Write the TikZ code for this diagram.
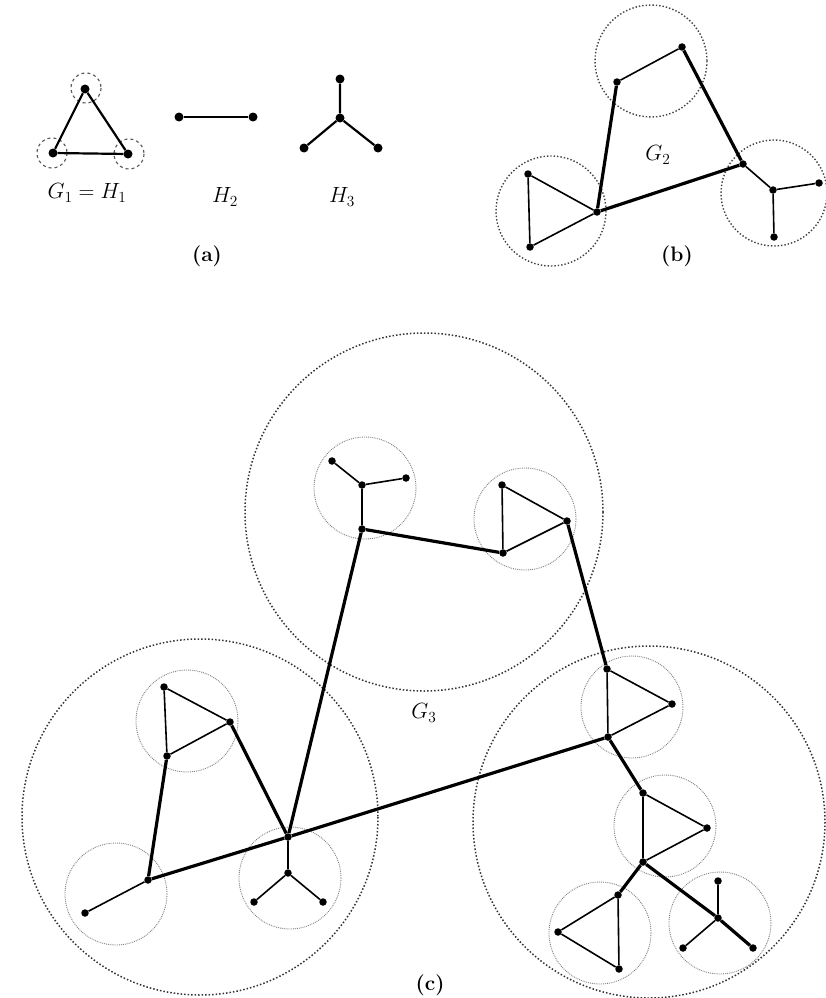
\RequirePackage{fix-cm}
\documentclass[tikz,border=0pt]{standalone}
\usepackage{amsmath,amssymb}
\usepackage{tikz}
\tikzset{
  vtx/.style={circle, fill=black, inner sep=0pt, minimum size=7.5pt},
  vtxa/.style={vtx, minimum size=9pt},
  edge/.style={line width=1.6pt},
  edgea/.style={line width=2.2pt},
  bridge/.style={line width=3.2pt},
  ringa/.style={gray!70!black, dashed, line width=1.1pt},
  ringb/.style={black!75, dotted, line width=1.4pt},
  ringsmall/.style={gray, densely dotted, line width=0.9pt},
  ringbig/.style={black!80, dotted, line width=1.5pt},
  lbl/.style={font=\fontsize{22}{26}\selectfont},
  subcap/.style={font=\fontsize{21}{25}\selectfont\bfseries}
}

\begin{document}
\begin{tikzpicture}[x=1pt, y=-1pt]
    \useasboundingbox (0,0) rectangle (825,998);

    % (a) the three base graphs
    \draw[ringa] (86,88) circle (15);
    \draw[ringa] (52,153) circle (15);
    \draw[ringa] (129,154) circle (15);
    \node[vtxa] (a1) at (85,89) {};
    \node[vtxa] (a2) at (53,153) {};
    \node[vtxa] (a3) at (128,154) {};
    \draw[edgea] (a1) -- (a2) -- (a3) -- (a1);
    \node[vtxa] (b1) at (179,117) {};
    \node[vtxa] (b2) at (253,117) {};
    \draw[edgea] (b1) -- (b2);
    \node[vtxa] (c0) at (340,118) {};
    \node[vtxa] (c1) at (340,79) {};
    \node[vtxa] (c2) at (304,148) {};
    \node[vtxa] (c3) at (378,148) {};
    \draw[edgea] (c0) -- (c1) (c0) -- (c2) (c0) -- (c3);
    \node[lbl] (la1) at (87,193) {$G_1 = H_1$};
    \node[lbl] (la2) at (225,197) {$H_2$};
    \node[lbl] (la3) at (342,197) {$H_3$};
    \node[subcap] (capa) at (207,256) {(a)};

    % (b) G_2
    \draw[ringb] (651,61) circle (56);
    \draw[ringb] (551,211) circle (55);
    \draw[ringb] (774,193) circle (53);
    \node[vtx] (p1) at (617,82) {};
    \node[vtx] (p2) at (682,47) {};
    \node[vtx] (t1) at (528,174) {};
    \node[vtx] (t2) at (530,247) {};
    \node[vtx] (t3) at (597,212) {};
    \node[vtx] (q0) at (773,190) {};
    \node[vtx] (q1) at (743,164) {};
    \node[vtx] (q2) at (819,183) {};
    \node[vtx] (q3) at (774,237) {};
    \draw[edge] (t1) -- (t2) -- (t3) -- (t1);
    \draw[edge] (p1) -- (p2);
    \draw[edge] (q0) -- (q1) (q0) -- (q2) (q0) -- (q3);
    \draw[bridge] (p1) -- (t3);
    \draw[bridge] (p2) -- (q1);
    \draw[bridge] (t3) -- (q1);
    \node[lbl] (lb) at (658,155) {$G_2$};
    \node[subcap] (capb) at (677,256) {(b)};

    % (c) G_3, big rings
    \draw[ringbig] (424,512) circle (179);
    \draw[ringbig] (200,817) circle (178);
    \draw[ringbig] (649,822) circle (176);

    % top copy
    \draw[ringsmall] (365,488) circle (51);
    \draw[ringsmall] (525,519) circle (51);
    \node[vtx] (u0) at (362,485) {};
    \node[vtx] (u1) at (332,461) {};
    \node[vtx] (u2) at (406,478) {};
    \node[vtx] (u3) at (362,529) {};
    \node[vtx] (v1) at (502,485) {};
    \node[vtx] (v2) at (567,521) {};
    \node[vtx] (v3) at (503,553) {};
    \draw[edge] (u0) -- (u1) (u0) -- (u2) (u0) -- (u3);
    \draw[edge] (v1) -- (v2) -- (v3) -- (v1);
    \draw[bridge] (u3) -- (v3);

    % left copy
    \draw[ringsmall] (187,721) circle (51);
    \draw[ringsmall] (116,894) circle (51);
    \draw[ringsmall] (290,878) circle (51);
    \node[vtx] (w1) at (164,687) {};
    \node[vtx] (w2) at (230,722) {};
    \node[vtx] (w3) at (167,756) {};
    \node[vtx] (x1) at (148,880) {};
    \node[vtx] (x2) at (85,913) {};
    \node[vtx] (y0) at (288,873) {};
    \node[vtx] (y1) at (288,837) {};
    \node[vtx] (y2) at (254,902) {};
    \node[vtx] (y3) at (323,902) {};
    \draw[edge] (w1) -- (w2) -- (w3) -- (w1);
    \draw[edge] (x1) -- (x2);
    \draw[edge] (y0) -- (y1) (y0) -- (y2) (y0) -- (y3);
    \draw[bridge] (w2) -- (y1);
    \draw[bridge] (w3) -- (x1);
    \draw[bridge] (x1) -- (y1);

    % right copy
    \draw[ringsmall] (632,707) circle (51);
    \draw[ringsmall] (665,826) circle (51);
    \draw[ringsmall] (600,933) circle (51);
    \draw[ringsmall] (720,923) circle (51);
    \node[vtx] (r1) at (607,669) {};
    \node[vtx] (r2) at (672,704) {};
    \node[vtx] (r3) at (608,737) {};
    \node[vtx] (s1) at (643,793) {};
    \node[vtx] (s2) at (707,828) {};
    \node[vtx] (s3) at (643,862) {};
    \node[vtx] (k1) at (618,895) {};
    \node[vtx] (k2) at (558,932) {};
    \node[vtx] (k3) at (619,969) {};
    \node[vtx] (m0) at (718,918) {};
    \node[vtx] (m1) at (718,881) {};
    \node[vtx] (m2) at (683,948) {};
    \node[vtx] (m3) at (753,948) {};
    \draw[edge] (r1) -- (r2) -- (r3) -- (r1);
    \draw[edge] (s1) -- (s2) -- (s3) -- (s1);
    \draw[edge] (k1) -- (k2) -- (k3) -- (k1);
    \draw[edge] (m0) -- (m1) (m0) -- (m2);
    \draw[bridge] (m0) -- (m3);
    \draw[bridge] (r3) -- (s1);
    \draw[bridge] (s3) -- (k1);
    \draw[bridge] (s3) -- (m0);

    % links between the copies
    \draw[bridge] (u3) -- (y1);
    \draw[bridge] (v2) -- (r1);
    \draw[bridge] (y1) -- (r3);

    \node[lbl] (lc) at (424,713) {$G_3$};
    \node[subcap] (capc) at (430,985) {(c)};
\end{tikzpicture}
\end{document}
